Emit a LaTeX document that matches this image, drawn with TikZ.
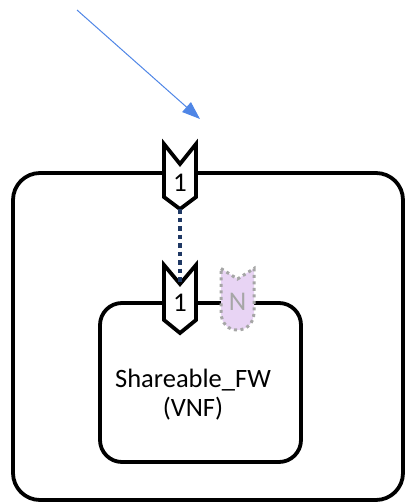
\documentclass[tikz,border=0pt]{standalone}
\usepackage{fontspec}
\setmainfont{Carlito}
\usetikzlibrary{arrows.meta}
\definecolor{arrowblue}{HTML}{4F86E6}
\definecolor{navy}{HTML}{1F3864}
\definecolor{lilac}{HTML}{E8D4F4}
\definecolor{dotgray}{HTML}{A6A6A6}
\begin{document}
\begin{tikzpicture}[x=1pt,y=-1pt,
  boxline/.style={draw=black,line width=3.8pt,rounded corners=#1},
  portshape/.style={draw=black,fill=white,line width=3.8pt,line join=miter},
  portlabel/.style={font=\fontsize{27}{28}\selectfont,inner sep=0pt},
  nshape/.style={draw=dotgray,fill=lilac,line width=3pt,dash pattern=on 3pt off 3.5pt},
  nlabel/.style={font=\fontsize{27}{28}\selectfont,text=dotgray,inner sep=0pt},
  bodytext/.style={font=\fontsize{26.5}{29}\selectfont,align=center,inner sep=0pt}]
\useasboundingbox (0,0) rectangle (407,503);
% outer box
\draw[boxline=27] (13,173) rectangle (403,500);
% inner box
\draw[boxline=22] (100,303) rectangle (301,462);
% outer port
\draw[portshape] (164,144) -- (180,164) -- (196,144) -- (196,197) -- (180,209) -- (164,197) -- cycle;
\coordinate (p1tip) at (180,209);
\node[portlabel] (p1) at (180,183) {1};
% inner port
\draw[portshape] (164,265) -- (180,284) -- (196,265) -- (196,320) -- (180,333) -- (164,320) -- cycle;
\coordinate (p2notch) at (180,284);
\node[portlabel] (p2) at (180,303) {1};
% N port
\draw[nshape] (221,268.5) -- (237.5,279) -- (254,268.5) -- (254,312)
  .. controls (254,324) and (246,330) .. (237.5,330)
  .. controls (229,330) and (221,324) .. (221,312) -- cycle;
\node[nlabel] (pn) at (237.5,302) {N};
% dotted link
\draw[navy,line width=3.5pt,dash pattern=on 4.5pt off 4pt] (p1tip) -- (p2notch);
% blue arrow
\coordinate (astart) at (77,10);
\coordinate (aend) at (200,119);
\draw[arrowblue,line width=1pt,-{Triangle[length=18pt,width=13pt]}] (astart) -- (aend);
% text
\node[bodytext] (fw) at (193,395) {Shareable\_FW\\(VNF)};
\end{tikzpicture}
\end{document}
